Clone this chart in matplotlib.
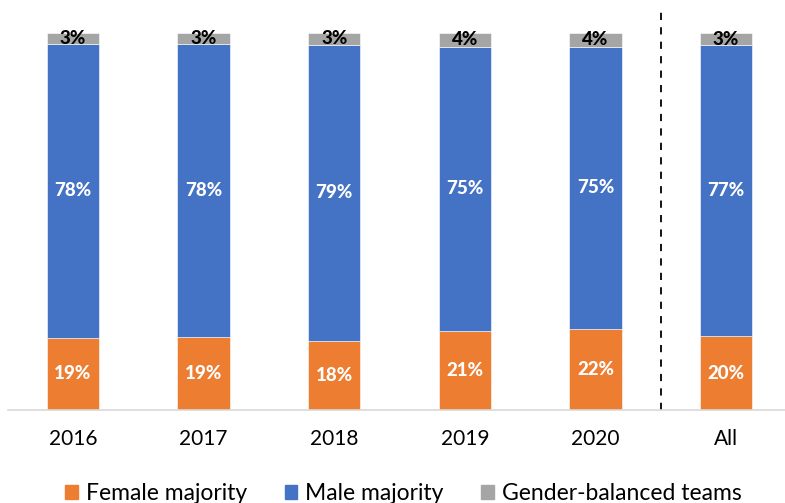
import matplotlib.pyplot as plt
from matplotlib.patches import Patch

categories = ["2016", "2017", "2018", "2019", "2020", "All"]
female = [19.1, 19.4, 18.3, 21.0, 21.6, 19.6]
male = [78.0, 77.7, 78.6, 75.3, 74.8, 77.2]
balanced = [2.9, 2.9, 3.2, 3.7, 3.7, 3.2]
series_names = ["Female majority", "Male majority", "Gender-balanced teams"]

ORANGE = "#ED7D31"
BLUE = "#4472C4"
GRAY = "#A5A5A5"
FONT = "Lato"

W, H, DPI = 785, 503, 100

fig = plt.figure(figsize=(W / DPI, H / DPI), dpi=DPI)
ax = fig.add_axes([7.7 / W, 93 / H, 783.6 / W, 377 / H])

x = list(range(len(categories)))
bw = 0.40
bottom2 = [f + m for f, m in zip(female, male)]

b1 = ax.bar(x, female, bw, color=ORANGE, edgecolor="white", linewidth=0.4)
b2 = ax.bar(x, male, bw, bottom=female, color=BLUE, edgecolor="white", linewidth=0.4)
b3 = ax.bar(x, balanced, bw, bottom=bottom2, color=GRAY, edgecolor="white", linewidth=0.4)

for bars, vals, col in [(b1, female, "white"), (b2, male, "white"), (b3, balanced, "black")]:
    for rect, v in zip(bars, vals):
        cx = rect.get_x() + rect.get_width() / 2
        cy = rect.get_y() + rect.get_height() / 2
        ax.text(cx, cy, f"{v:.0f}%", ha="center", va="center", color=col,
                fontsize=13.5, fontweight=900, family=FONT)

# separator between the years and the overall bar
ax.plot([4.5, 4.5], [0, 105.6], color="black", linestyle=(0, (4, 4)), linewidth=1.3, clip_on=False)

ax.set_xlim(-0.5, 5.5)
ax.set_ylim(0, 100)
ax.set_xticks(x)
ax.set_xticklabels(categories, fontsize=15, family=FONT)
ax.tick_params(axis="x", length=0, pad=14)
ax.set_yticks([])
for s in ["top", "right", "left"]:
    ax.spines[s].set_visible(False)
ax.spines["bottom"].set_color("#D9D9D9")
ax.spines["bottom"].set_linewidth(1.2)

handles = [Patch(color=c) for c in (ORANGE, BLUE, GRAY)]
fig.legend(handles, series_names, loc="center", bbox_to_anchor=(0.514, 9 / H), ncol=3,
           frameon=False, handlelength=0.55, handleheight=0.55, handletextpad=0.35,
           columnspacing=1.65, prop={"family": FONT, "size": 16.5})

fig.savefig("out.png", dpi=DPI)
